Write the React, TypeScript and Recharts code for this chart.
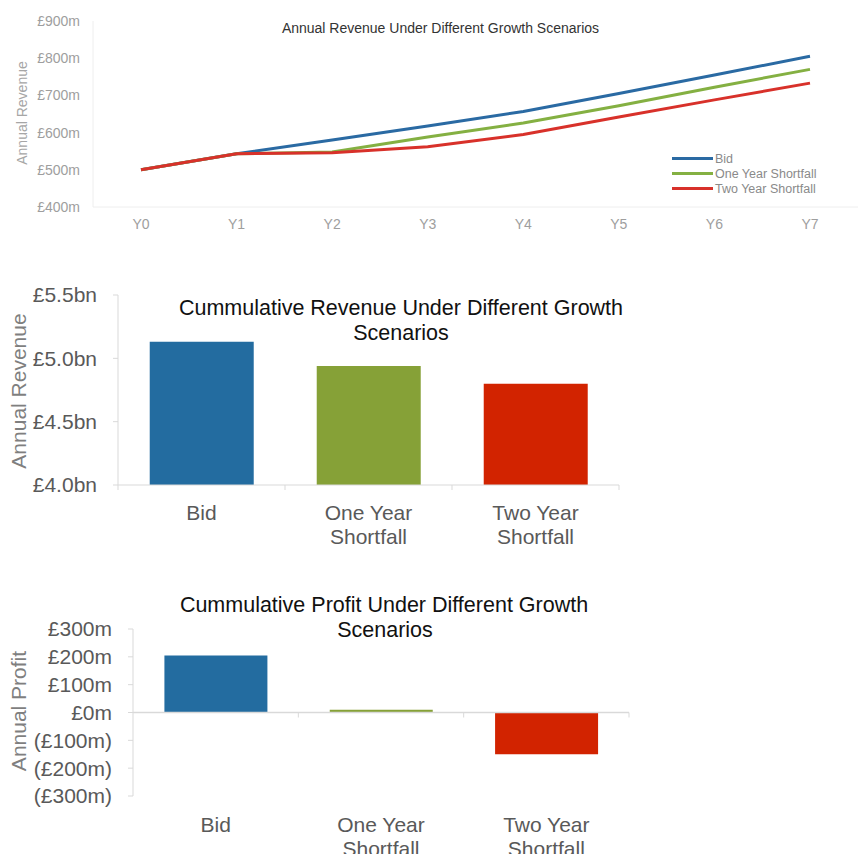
import React from 'react'
import { LineChart, Line, BarChart, Bar, XAxis, YAxis, Legend, ReferenceLine, Cell } from 'recharts'

const FONT = '"Liberation Sans", Arial, sans-serif'

// annual revenue (£m)
const years = ['Y0', 'Y1', 'Y2', 'Y3', 'Y4', 'Y5', 'Y6', 'Y7']
const bidRevenue = [500, 543, 580, 618, 657, 705, 755, 805]
const oneYearRevenue = [500, 543, 548, 588, 626, 672, 722, 770]
const twoYearRevenue = [500, 543, 546, 562, 595, 642, 688, 733]
const revenueTicks = [400, 500, 600, 700, 800, 900]
const lineColors = ['#2a6aa3', '#84b042', '#d8312a']

// cumulative figures by scenario
const scenarios = ['Bid', 'One Year Shortfall', 'Two Year Shortfall']
const scenarioLines = [['Bid'], ['One Year', 'Shortfall'], ['Two Year', 'Shortfall']]
const barColors = ['#236ca0', '#86a137', '#d22300']
const cumulativeRevenue = [5.13, 4.94, 4.8] // £bn
const cumulativeRevenueTicks = [4.0, 4.5, 5.0, 5.5]
const cumulativeProfit = [205, 10, -150] // £m
const profitTicks = [-300, -200, -100, 0, 100, 200, 300]

const annualData = years.map((year, i) => ({
  year,
  bid: bidRevenue[i],
  oneYear: oneYearRevenue[i],
  twoYear: twoYearRevenue[i],
}))
const revenueData = scenarios.map((name, i) => ({ name, value: cumulativeRevenue[i] }))
const profitData = scenarios.map((name, i) => ({ name, value: cumulativeProfit[i] }))

const fmtProfit = (v: number) => (v < 0 ? `(£${-v}m)` : `£${v}m`)

function renderLegend(props: any) {
  return (
    <div style={{ fontFamily: FONT, fontSize: 12.5, color: '#8a8a8a', textAlign: 'left' }}>
      {(props.payload || []).map((e: any) => (
        <div key={e.value} style={{ display: 'flex', alignItems: 'center', height: 15 }}>
          <span style={{ display: 'inline-block', width: 41, height: 3, background: e.color, marginRight: 2 }} />
          {e.value}
        </div>
      ))}
    </div>
  )
}

function CategoryTick(props: any) {
  const { x, y, payload, index, drawTicks, textTop } = props
  const half = payload && payload.offset ? payload.offset : 0
  const lines = scenarioLines[index] || [payload.value]
  return (
    <g>
      {drawTicks && <line x1={x - half} y1={y} x2={x - half} y2={y + 5} stroke="#d9d9d9" />}
      {drawTicks && index === scenarios.length - 1 && (
        <line x1={x + half} y1={y} x2={x + half} y2={y + 5} stroke="#d9d9d9" />
      )}
      {lines.map((l: string, i: number) => (
        <text key={i} x={x} y={y + textTop + i * 24} textAnchor="middle" fill="#595959" fontSize={21} fontFamily={FONT}>
          {l}
        </text>
      ))}
    </g>
  )
}

function ZeroLine(props: any) {
  const { x1, x2, y1 } = props
  const step = (x2 - x1) / scenarios.length
  return (
    <g>
      <line x1={x1} y1={y1} x2={x2} y2={y1} stroke="#d9d9d9" strokeWidth={1.5} />
      {scenarios.map((_, i) => (
        <line key={i} x1={x1 + step * (i + 1)} y1={y1} x2={x1 + step * (i + 1)} y2={y1 + 5} stroke="#d9d9d9" />
      ))}
    </g>
  )
}

const bigTick = { fill: '#595959', fontSize: 21, fontFamily: FONT }

export default function App() {
  return (
    <div style={{ position: 'absolute', left: 0, top: 0, width: 861, height: 854, background: '#fff', overflow: 'hidden' }}>
      <div style={{ position: 'absolute', left: 0, top: 0 }}>
        <LineChart width={861} height={255} data={annualData} margin={{ top: 21, right: 3, bottom: 18, left: 0 }}>
          <XAxis
            dataKey="year"
            height={30}
            padding={{ left: 48, right: 48 }}
            axisLine={{ stroke: '#eeeeee' }}
            tickLine={false}
            tickSize={0}
            tickMargin={12}
            interval={0}
            tick={{ fill: '#9e9e9e', fontSize: 14, fontFamily: FONT }}
          />
          <YAxis
            width={93}
            domain={[400, 900]}
            ticks={revenueTicks}
            interval={0}
            axisLine={{ stroke: '#eeeeee' }}
            tickLine={false}
            tickSize={0}
            tickMargin={13}
            tickFormatter={(v: number) => `£${v}m`}
            tick={{ fill: '#9e9e9e', fontSize: 14, fontFamily: FONT }}
          />
          <Legend
            layout="horizontal"
            align="center"
            verticalAlign="middle"
            content={renderLegend}
            wrapperStyle={{ left: 672, top: 151, width: 180, bottom: 'auto', right: 'auto' }}
          />
          <Line dataKey="bid" name="Bid" stroke={lineColors[0]} strokeWidth={3} dot={false} isAnimationActive={false} />
          <Line dataKey="oneYear" name="One Year Shortfall" stroke={lineColors[1]} strokeWidth={3} dot={false} isAnimationActive={false} />
          <Line dataKey="twoYear" name="Two Year Shortfall" stroke={lineColors[2]} strokeWidth={3} dot={false} isAnimationActive={false} />
        </LineChart>
      </div>

      <div style={{ position: 'absolute', left: 0, top: 260 }}>
        <BarChart width={861} height={300} data={revenueData} margin={{ top: 35, right: 242, bottom: 15, left: 0 }} barCategoryGap="19%">
          <XAxis
            dataKey="name"
            height={60}
            axisLine={{ stroke: '#d9d9d9' }}
            tickLine={false}
            tickSize={0}
            tickMargin={0}
            interval={0}
            tick={<CategoryTick drawTicks textTop={35} />}
          />
          <YAxis
            width={118}
            domain={[4, 5.5]}
            ticks={cumulativeRevenueTicks}
            interval={0}
            axisLine={{ stroke: '#d9d9d9' }}
            tickLine={{ stroke: '#d9d9d9' }}
            tickSize={5}
            tickMargin={16}
            tickFormatter={(v: number) => `£${v.toFixed(1)}bn`}
            tick={bigTick}
          />
          <Bar dataKey="value" isAnimationActive={false}>
            {revenueData.map((d, i) => (
              <Cell key={d.name} fill={barColors[i]} />
            ))}
          </Bar>
        </BarChart>
      </div>

      <div style={{ position: 'absolute', left: 0, top: 560 }}>
        <BarChart width={861} height={294} data={profitData} margin={{ top: 69, right: 232, bottom: 8, left: 0 }} barCategoryGap="19%">
          <XAxis
            dataKey="name"
            height={50}
            axisLine={false}
            tickLine={false}
            tickSize={0}
            tickMargin={0}
            interval={0}
            tick={<CategoryTick drawTicks={false} textTop={36} />}
          />
          <YAxis
            width={133}
            domain={[-300, 300]}
            ticks={profitTicks}
            interval={0}
            axisLine={{ stroke: '#d9d9d9' }}
            tickLine={{ stroke: '#d9d9d9' }}
            tickSize={5}
            tickMargin={16}
            tickFormatter={fmtProfit}
            tick={bigTick}
          />
          <Bar dataKey="value" isAnimationActive={false}>
            {profitData.map((d, i) => (
              <Cell key={d.name} fill={barColors[i]} />
            ))}
          </Bar>
          <ReferenceLine y={0} shape={<ZeroLine />} />
        </BarChart>
      </div>

      <svg width={861} height={854} style={{ position: 'absolute', left: 0, top: 0, pointerEvents: 'none' }} fontFamily={FONT}>
        <text x={440.5} y={33} textAnchor="middle" fontSize={14} fill="#333">
          Annual Revenue Under Different Growth Scenarios
        </text>
        <text transform="translate(27,113) rotate(-90)" textAnchor="middle" fontSize={14} fill="#a6a6a6">
          Annual Revenue
        </text>

        <text x={401} y={315} textAnchor="middle" fontSize={21.5} fill="#111">
          Cummulative Revenue Under Different Growth
        </text>
        <text x={401} y={339.5} textAnchor="middle" fontSize={21.5} fill="#111">
          Scenarios
        </text>
        <text transform="translate(26,391) rotate(-90)" textAnchor="middle" fontSize={21} fill="#7f7f7f">
          Annual Revenue
        </text>

        <text x={384} y={612} textAnchor="middle" fontSize={21.5} fill="#111">
          Cummulative Profit Under Different Growth
        </text>
        <text x={385} y={637} textAnchor="middle" fontSize={21.5} fill="#111">
          Scenarios
        </text>
        <text transform="translate(26,711) rotate(-90)" textAnchor="middle" fontSize={21} fill="#7f7f7f">
          Annual Profit
        </text>
      </svg>
    </div>
  )
}
